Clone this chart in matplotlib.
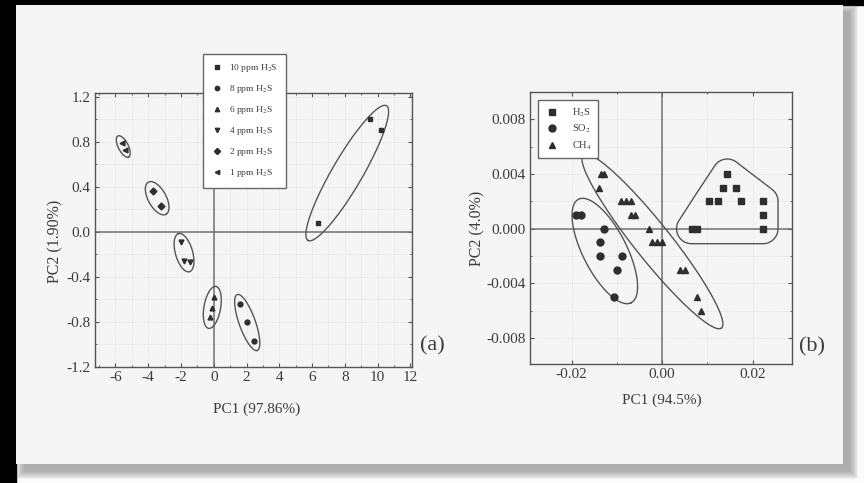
import numpy as np
import matplotlib
matplotlib.use('Agg')
import matplotlib.pyplot as plt
from matplotlib.patches import Rectangle
from matplotlib.ticker import MultipleLocator, FormatStrFormatter

plt.rcParams['font.family'] = ['Liberation Serif', 'DejaVu Serif']
plt.rcParams['mathtext.fontset'] = 'stix'
plt.rcParams['axes.unicode_minus'] = False

# ---- panel (a): H2S concentration series ----
a_labels = ['10 ppm H$_2$S', '8 ppm H$_2$S', '6 ppm H$_2$S',
            '4 ppm H$_2$S', '2 ppm H$_2$S', '1 ppm H$_2$S']
a_markers = ['s', 'o', '^', 'v', 'D', '<']
a_pc1 = [[9.55, 10.2, 6.35],
         [1.63, 2.04, 2.44],
         [0.0, -0.08, -0.22],
         [-1.97, -1.83, -1.48],
         [-3.70, -3.21],
         [-5.63, -5.42]]
a_pc2 = [[1.0, 0.91, 0.08],
         [-0.64, -0.80, -0.97],
         [-0.58, -0.68, -0.76],
         [-0.09, -0.26, -0.27],
         [0.365, 0.235],
         [0.79, 0.73]]

# ---- panel (b): gas types ----
b_labels = ['H$_2$S', 'SO$_2$', 'CH$_4$']
b_markers = ['s', 'o', '^']
h2s_pc1 = [0.0144, 0.0135, 0.0164, 0.0104, 0.0124, 0.0175, 0.0223, 0.0223, 0.0223, 0.0065, 0.0078]
h2s_pc2 = [0.004, 0.003, 0.003, 0.002, 0.002, 0.002, 0.002, 0.001, 0.0, 0.0, 0.0]
so2_pc1 = [-0.0190, -0.0179, -0.0128, -0.0137, -0.0137, -0.0089, -0.0100, -0.0107]
so2_pc2 = [0.001, 0.001, 0.0, -0.001, -0.002, -0.002, -0.003, -0.005]
ch4_pc1 = [-0.0136, -0.0128, -0.0139, -0.0090, -0.0079, -0.0069, -0.0068, -0.0059,
           -0.0030, -0.0022, -0.0011, 0.0, 0.0039, 0.0050, 0.0078, 0.0087]
ch4_pc2 = [0.004, 0.004, 0.003, 0.002, 0.002, 0.002, 0.001, 0.001,
           0.0, -0.001, -0.001, -0.001, -0.003, -0.003, -0.005, -0.006]
b_pc1 = [h2s_pc1, so2_pc1, ch4_pc1]
b_pc2 = [h2s_pc2, so2_pc2, ch4_pc2]

W, H = 864, 483
INK = '#3c3c3c'
PAGE = '#f5f5f5'


def px_rect(fig, x0, y0, x1, y1, **kw):
    # rectangle given in image pixels (origin top-left)
    r = Rectangle((x0 / W, 1 - y1 / H), (x1 - x0) / W, (y1 - y0) / H,
                  transform=fig.transFigure, **kw)
    fig.add_artist(r)


def enclose(ax, xs, ys, pad_long, pad_short, **kw):
    # ellipse around a cluster, built in screen pixels
    pts = ax.transData.transform(np.column_stack([xs, ys]))
    c = pts.mean(axis=0)
    d = pts - c
    u = np.linalg.svd(d)[2][0]
    v = np.array([-u[1], u[0]])
    pu, pv = d @ u, d @ v
    ctr = c + u * (pu.max() + pu.min()) / 2 + v * (pv.max() + pv.min()) / 2
    a = (pu.max() - pu.min()) / 2 + pad_long
    b = (pv.max() - pv.min()) / 2 + pad_short
    t = np.linspace(0, 2 * np.pi, 240)
    ring = ctr + np.outer(a * np.cos(t), u) + np.outer(b * np.sin(t), v)
    xy = ax.transData.inverted().transform(ring)
    ax.plot(xy[:, 0], xy[:, 1], **kw)


def hull(p):
    p = sorted(map(tuple, p))
    def cross(o, a, b):
        return (a[0] - o[0]) * (b[1] - o[1]) - (a[1] - o[1]) * (b[0] - o[0])
    lower, upper = [], []
    for q in p:
        while len(lower) >= 2 and cross(lower[-2], lower[-1], q) <= 0:
            lower.pop()
        lower.append(q)
    for q in reversed(p):
        while len(upper) >= 2 and cross(upper[-2], upper[-1], q) <= 0:
            upper.pop()
        upper.append(q)
    return np.array(lower[:-1] + upper[:-1])


def rounded_hull(ax, xs, ys, r, **kw):
    pts = ax.transData.transform(np.column_stack([xs, ys]))
    t = np.linspace(0, 2 * np.pi, 72, endpoint=False)
    circ = np.column_stack([np.cos(t), np.sin(t)]) * r
    cloud = (pts[:, None, :] + circ[None, :, :]).reshape(-1, 2)
    h = hull(cloud)
    h = np.vstack([h, h[:1]])
    xy = ax.transData.inverted().transform(h)
    ax.plot(xy[:, 0], xy[:, 1], **kw)


def style_axes(ax):
    ax.set_facecolor(PAGE)
    for s in ax.spines.values():
        s.set_color('#555555')
        s.set_linewidth(1.0)
    ax.tick_params(which='both', direction='in', top=True, right=True,
                   colors='#555555', labelcolor=INK, labelsize=11, pad=3)
    ax.tick_params(which='major', length=3)
    ax.tick_params(which='minor', length=1.5)
    ax.grid(True, which='both', color='#dcdcdc', linestyle=':', linewidth=0.6)
    ax.set_axisbelow(True)
    ax.axhline(0, color='#707070', lw=1.1, zorder=1)
    ax.axvline(0, color='#707070', lw=1.1, zorder=1)


fig = plt.figure(figsize=(W / 100, H / 100), dpi=100, facecolor='#fbfbfb')

# scanned page look: black margins, page, soft drop shadow
px_rect(fig, 0, 0, 16, H, color='black', zorder=-10)
px_rect(fig, 0, 0, W, 5, color='black', zorder=-10)
for s in np.linspace(8, 0, 9):
    px_rect(fig, 24 - s, 12 - s, 850 + s, 471 + s, color='#606060',
            alpha=0.07, lw=0, zorder=-9)
px_rect(fig, 16, 5, 843, 464, color=PAGE, lw=0, zorder=-8)

# ---------------- panel (a) ----------------
ax1 = fig.add_axes([95 / W, 1 - 367 / H, 317 / W, 274 / H])
style_axes(ax1)
ax1.set_xlim(-7.25, 12.1)
ax1.set_ylim(-1.2, 1.235)
ax1.xaxis.set_major_locator(MultipleLocator(2))
ax1.xaxis.set_minor_locator(MultipleLocator(1))
ax1.yaxis.set_major_locator(MultipleLocator(0.4))
ax1.yaxis.set_minor_locator(MultipleLocator(0.2))
ax1.yaxis.set_major_formatter(FormatStrFormatter('%.1f'))

pads_a = [(20, 8), (10, 8), (11, 8), (9, 6), (10, 9), (8, 5)]
for xs, ys, lab, mk, pad in zip(a_pc1, a_pc2, a_labels, a_markers, pads_a):
    ax1.plot(xs, ys, mk, color='#2e2e2e', ms=3.5, ls='none', label=lab, zorder=3)
    enclose(ax1, xs, ys, pad[0], pad[1], color='#555555', lw=1.0, zorder=2)

ax1.set_xlabel('PC1 (97.86%)', fontsize=11, color=INK)
ax1.set_ylabel('PC2 (1.90%)', fontsize=11.5, color=INK)
ax1.xaxis.set_label_coords(0.51, -0.128)
ax1.yaxis.set_label_coords(-0.10, 0.46)
leg1 = ax1.legend(loc='upper left', bbox_to_anchor=(0.325, 1.16), fontsize=6.8,
                  frameon=True, fancybox=False, edgecolor='#666666',
                  facecolor='white', framealpha=1, labelspacing=0.95,
                  handletextpad=0.7, borderpad=0.9, handlelength=1.2,
                  markerscale=0.9)
leg1.get_frame().set_linewidth(1.0)
for t in leg1.get_texts():
    t.set_color(INK)

# ---------------- panel (b) ----------------
ax2 = fig.add_axes([530 / W, 1 - 364 / H, 262 / W, 272 / H])
style_axes(ax2)
ax2.set_xlim(-0.0292, 0.0287)
ax2.set_ylim(-0.0099, 0.0100)
ax2.xaxis.set_major_locator(MultipleLocator(0.02))
ax2.xaxis.set_minor_locator(MultipleLocator(0.01))
ax2.yaxis.set_major_locator(MultipleLocator(0.004))
ax2.yaxis.set_minor_locator(MultipleLocator(0.002))
ax2.xaxis.set_major_formatter(FormatStrFormatter('%.2f'))
ax2.yaxis.set_major_formatter(FormatStrFormatter('%.3f'))

for xs, ys, lab, mk in zip(b_pc1, b_pc2, b_labels, b_markers):
    ax2.plot(xs, ys, mk, color='#2e2e2e', ms=5, ls='none', label=lab, zorder=3)

rounded_hull(ax2, h2s_pc1, h2s_pc2, 15, color='#555555', lw=1.0, zorder=2)
enclose(ax2, so2_pc1, so2_pc2, 13, 9, color='#555555', lw=1.0, zorder=2)
enclose(ax2, ch4_pc1, ch4_pc2, 26, 10, color='#555555', lw=1.0, zorder=2)

ax2.set_xlabel('PC1 (94.5%)', fontsize=11, color=INK)
ax2.set_ylabel('PC2 (4.0%)', fontsize=11.5, color=INK)
ax2.xaxis.set_label_coords(0.504, -0.107)
ax2.yaxis.set_label_coords(-0.172, 0.5)
leg2 = ax2.legend(loc='upper left', bbox_to_anchor=(0.012, 0.99), fontsize=7.5,
                  frameon=True, fancybox=False, edgecolor='#666666',
                  facecolor='white', framealpha=1, labelspacing=0.4,
                  handletextpad=1.2, borderpad=0.6, handlelength=1.4)
leg2.get_frame().set_linewidth(1.0)
for t in leg2.get_texts():
    t.set_color(INK)

fig.text(432 / W, 1 - 346 / H, '(a)', fontsize=16, color=INK, ha='center', va='center')
fig.text(812 / W, 1 - 347 / H, '(b)', fontsize=16, color=INK, ha='center', va='center')

fig.savefig('out.png', dpi=100, facecolor=fig.get_facecolor())
